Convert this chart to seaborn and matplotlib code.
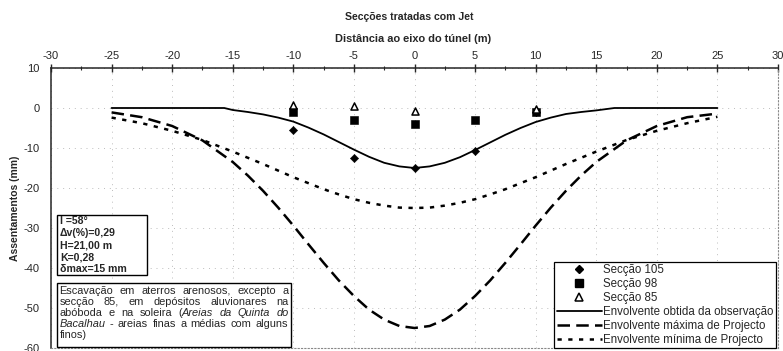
import matplotlib
matplotlib.use("Agg")
import matplotlib.pyplot as plt
from matplotlib.lines import Line2D
from matplotlib.patches import Rectangle
from matplotlib.transforms import IdentityTransform
import seaborn as sns
import numpy as np

# ---------------- data ----------------
sec_x = [-10, -5, 0, 5, 10]
sec105_y = [-5.6, -12.5, -15.1, -10.7, -1.0]
sec98_y = [-1.1, -3.0, -4.0, -3.0, -1.1]
sec85_x = [-10, -5, 0, 10]
sec85_y = [0.7, 0.5, -0.7, -0.3]

obs_x = [-25, -20, -15.7, -15, -13.75, -12.5, -11.25, -10, -8.75, -7.5, -6.25, -5, -3.75, -2.5, -1.25, 0,
         1.25, 2.5, 3.75, 5, 6.25, 7.5, 8.75, 10, 11.25, 12.5, 13.75, 15, 16.5, 20, 25]
obs_y = [0, 0, 0, -0.5, -1.0, -1.6, -2.4, -3.4, -4.9, -6.6, -8.5, -10.4, -12.2, -13.7, -14.6, -15.0,
         -14.6, -13.7, -12.3, -10.5, -8.6, -6.7, -5.0, -3.5, -2.4, -1.5, -1.0, -0.6, 0, 0, 0]

max_x = [-25, -22.5, -20, -17.5, -15, -13.75, -12.5, -11.25, -10, -8.75, -7.5, -6.25, -5, -3.75, -2.5, -1.25, 0,
         1.25, 2.5, 3.75, 5, 6.25, 7.5, 8.75, 10, 11.25, 12.5, 13.75, 15, 17.5, 20, 22.5, 25]
max_y = [-1.1, -2.3, -4.5, -8.1, -13.5, -16.9, -20.7, -24.9, -29.4, -34.1, -38.7, -43.1, -47.0, -50.4, -52.9, -54.5, -55.0,
         -54.5, -52.9, -50.4, -47.0, -43.1, -38.7, -34.1, -29.4, -24.9, -20.7, -16.9, -13.5, -8.1, -4.5, -2.3, -1.4]

min_x = [-25, -22.5, -20, -17.5, -15, -12.5, -10, -8.75, -7.5, -6.25, -5, -3.75, -2.5, -1.25, 0,
         1.25, 2.5, 3.75, 5, 6.25, 7.5, 8.75, 10, 12.5, 15, 17.5, 20, 22.5, 25]
min_y = [-2.4, -3.8, -5.7, -8.0, -10.9, -14.0, -17.3, -18.8, -20.3, -21.6, -22.8, -23.7, -24.4, -24.9, -25.0,
         -24.9, -24.4, -23.7, -22.8, -21.6, -20.3, -18.8, -17.3, -14.0, -10.9, -8.0, -5.7, -3.8, -2.2]

x_ticks = [-30, -25, -20, -15, -10, -5, 0, 5, 10, 15, 20, 25, 30]
y_ticks = [10, 0, -10, -20, -30, -40, -50, -60]

title = "Secções tratadas com Jet"
xlabel = "Distância ao eixo do túnel (m)"
ylabel = "Assentamentos (mm)"
labels = ["Secção 105", "Secção 98", "Secção 85",
          "Envolvente obtida da observação",
          "Envolvente máxima de Projecto",
          "Envolvente mínima de Projecto"]
info_lines = ["I =58°", "Δv(%)=0,29", "H=21,00 m", "K=0,28", "δmax=15 mm"]

# ---------------- figure ----------------
sns.set_style("white")
plt.rcParams['font.family'] = ['Liberation Sans', 'DejaVu Sans']
plt.rcParams['axes.unicode_minus'] = False

W, H = 783, 351
fig = plt.figure(figsize=(W / 100, H / 100), dpi=100)
L, R, T, B = 51, 778, 68, 348
ax = fig.add_axes([L / W, (H - B) / H, (R - L) / W, (B - T) / H])

sns.lineplot(x=obs_x, y=obs_y, ax=ax, color="black", lw=1.3, sort=False)
sns.lineplot(x=max_x, y=max_y, ax=ax, color="black", lw=1.8, sort=False)
ax.lines[-1].set_dashes((5, 2.5))
sns.lineplot(x=min_x, y=min_y, ax=ax, color="black", lw=1.8, sort=False)
ax.lines[-1].set_dashes((1.7, 2.6))

sns.scatterplot(x=sec_x, y=sec105_y, ax=ax, marker="D", s=18, color="black", edgecolor="black", zorder=5)
sns.scatterplot(x=sec_x, y=sec98_y, ax=ax, marker="s", s=26, color="black", edgecolor="black", zorder=5)
sns.scatterplot(x=sec85_x, y=sec85_y, ax=ax, marker="^", s=26, facecolor="white", edgecolor="black",
                linewidth=1.1, zorder=6)

ax.set_xlim(-30, 30)
ax.set_ylim(-60, 10)
ax.xaxis.tick_top()
ax.set_xticks(x_ticks)
ax.set_xticks(np.arange(-27.5, 30, 5), minor=True)
ax.set_yticks(y_ticks)
ax.tick_params(axis="x", which="major", direction="inout", length=6, width=1, labelsize=8, pad=2, top=True, bottom=False)
ax.tick_params(axis="x", which="minor", direction="inout", length=3, width=0.8, top=True, bottom=False)
ax.tick_params(axis="y", which="major", direction="out", length=4, width=1, labelsize=8, pad=4)
ax.set_xlabel("")
ax.set_ylabel(ylabel, fontsize=7.5, fontweight="bold", labelpad=3)

for v in x_ticks:
    ax.axvline(v, color="#bdbdbd", lw=0.7, ls=(0, (1, 5)), zorder=0)
for v in y_ticks:
    ax.axhline(v, color="#bdbdbd", lw=0.7, ls=(0, (1, 5)), zorder=0)

ax.spines["top"].set_linewidth(1.1)
ax.spines["left"].set_linewidth(1.1)
for s in ("right", "bottom"):
    ax.spines[s].set_color("#888888")
    ax.spines[s].set_linestyle((0, (1, 2)))
    ax.spines[s].set_linewidth(0.8)

fig.text(409 / W, 1 - 16.5 / H, title, ha="center", va="center", fontsize=7.6, fontweight="bold")
fig.text(413 / W, 1 - 39 / H, xlabel, ha="center", va="center", fontsize=7.9, fontweight="bold")

# legend
handles = [
    Line2D([], [], ls="none", marker="D", ms=4.5, color="black"),
    Line2D([], [], ls="none", marker="s", ms=5.5, color="black"),
    Line2D([], [], ls="none", marker="^", ms=5.5, mfc="white", mec="black", mew=1.1),
    Line2D([], [], color="black", lw=1.3),
    Line2D([], [], color="black", lw=1.8, dashes=(5, 2.5)),
    Line2D([], [], color="black", lw=1.8, dashes=(1.7, 2.6)),
]
leg = ax.legend(handles, labels, loc="lower right", bbox_to_anchor=(776 / W, (H - 348) / H),
                bbox_transform=fig.transFigure, fontsize=8.3, frameon=True, fancybox=False,
                edgecolor="black", framealpha=1, borderpad=0.2, labelspacing=0.16,
                handlelength=3.9, handletextpad=0.15, borderaxespad=0)
leg.get_frame().set_linewidth(0.9)

# info box
fig.patches.append(Rectangle((57, H - 275), 90, 60, transform=IdentityTransform(), facecolor="white",
                             edgecolor="black", lw=1.0, zorder=10, figure=fig))
for i, line in enumerate(info_lines):
    fig.text(60, H - (221.5 + i * 12), line, transform=IdentityTransform(), fontsize=7.6,
             fontweight="bold", va="center", ha="left", zorder=11)

# description box with justified lines
fig.patches.append(Rectangle((57, H - 346.5), 234, 64, transform=IdentityTransform(), facecolor="white",
                             edgecolor="black", lw=1.0, zorder=10, figure=fig))
renderer = fig.canvas.get_renderer()
desc = [
    ([[("Escavação", False)], [("em", False)], [("aterros", False)], [("arenosos,", False)],
      [("excepto", False)], [("a", False)]], True),
    ([[("secção", False)], [("85,", False)], [("em", False)], [("depósitos", False)],
      [("aluvionares", False)], [("na", False)]], True),
    ([[("abóboda", False)], [("e", False)], [("na", False)], [("soleira", False)],
      [("(", False), ("Areias", True)], [("da", True)], [("Quinta", True)], [("do", True)]], True),
    ([[("Bacalhau", True)], [("-", False)], [("areias", False)], [("finas", False)], [("a", False)],
      [("médias", False)], [("com", False)], [("alguns", False)]], True),
    ([[("finos)", False)]], False),
]
x0, x1 = 59.5, 288.5
fs = 7.9
for i, (words, just) in enumerate(desc):
    yb = H - (293.5 + i * 11.2)
    arts = []
    widths = []
    for w in words:
        segs = []
        wsum = 0
        for txt, it in w:
            t = fig.text(0, 0, txt, fontsize=fs, style="italic" if it else "normal",
                         transform=IdentityTransform(), va="baseline", ha="left", zorder=11)
            wd = t.get_window_extent(renderer).width
            segs.append((t, wd))
            wsum += wd
        arts.append(segs)
        widths.append(wsum)
    if just and len(words) > 1:
        gap = (x1 - x0 - sum(widths)) / (len(words) - 1)
    else:
        gap = 3
    x = x0
    for segs, wsum in zip(arts, widths):
        xx = x
        for t, wd in segs:
            t.set_position((xx, yb))
            xx += wd
        x += wsum + gap

fig.savefig("out.png", dpi=100)
